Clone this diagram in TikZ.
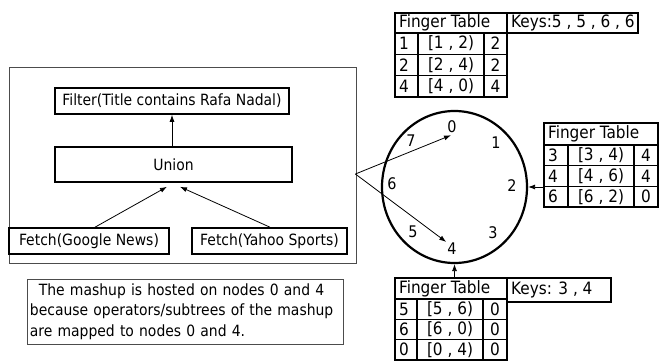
\documentclass[tikz,border=0pt]{standalone}
\usepackage{fontspec}
\setmainfont{DejaVu Sans Condensed}
\usetikzlibrary{arrows.meta,shapes.geometric,calc}
\tikzset{
  box/.style={draw, line width=1.6pt, inner sep=0pt},
  thinbox/.style={draw=black!70, line width=0.8pt, inner sep=0pt},
  arr/.style={-{Latex[length=7pt,width=5pt]}, line width=0.8pt},
  cell/.style={draw, line width=1.4pt, anchor=north west, inner sep=0pt, outer sep=0pt, font=\fontsize{17}{20}\selectfont},
  every label/.style={font=\fontsize{17}{20}\selectfont},
  outer/.style={line width=2.2pt},
  lbl/.style={inner sep=1pt, font=\fontsize{16}{20}\selectfont}
}
\newcommand\ftrow[9]{%
  \node[cell, minimum width=#5pt, minimum height=#4pt, label={[anchor=west,inner sep=4pt]west:#7}] (#1a) at (#2,#3) {};
  \node[cell, minimum width=66pt, minimum height=#4pt] (#1b) at (#1a.north east) {#8};
  \node[cell, minimum width=#6pt, minimum height=#4pt] (#1c) at (#1b.north east) {#9};
}
\begin{document}
\begin{tikzpicture}[x=1pt,y=-1pt,font=\fontsize{15.5}{20.3}\selectfont]
\useasboundingbox (0,0) rectangle (659,361);
% mashup box and operator tree
\node[thinbox, minimum width=347pt, minimum height=196pt] (mashup) at (182.5,165) {};
\node[box, minimum width=234pt, minimum height=26pt] (filter) at (172,101) {Filter(Title contains Rafa Nadal)};
\node[box, minimum width=237pt, minimum height=35pt] (union) at (173.5,164.5) {Union};
\node[box, minimum width=160pt, minimum height=26pt] (google) at (89,241) {Fetch(Google News)};
\node[box, minimum width=155pt, minimum height=26pt] (yahoo) at (269.5,241) {Fetch(Yahoo Sports)};
\draw[arr] (union.north -| filter.south) -- (filter.south);
\draw[arr] ($(google.north)+(6,0)$) -- ($(union.south)+(-6.5,4)$);
\draw[arr] ($(yahoo.north)+(0.5,0)$) -- ($(union.south)+(6.5,4)$);
% note
\node[thinbox, anchor=west, minimum height=65pt, text width=311pt, inner xsep=2.5pt, align=left] (note) at (27,311.5)
  {\hspace*{9pt}The mashup is hosted on nodes 0 and 4\\because operators/subtrees of the mashup\\are mapped to nodes 0 and 4.};
% ring
\node[draw, ellipse, line width=2.2pt, minimum width=145pt, minimum height=152pt, inner sep=0pt] (ring) at (454.5,187) {};
\node[lbl] (n0) at (452,127) {0};
\node[lbl] (n1) at (496,143) {1};
\node[lbl] (n2) at (512,186) {2};
\node[lbl] (n3) at (493,233) {3};
\node[lbl] (n4) at (452,249) {4};
\node[lbl] (n5) at (413,232) {5};
\node[lbl] (n6) at (392,184) {6};
\node[lbl] (n7) at (411,141) {7};
\coordinate (src) at ($(mashup.east)+(-1,9)$);
\draw[arr] (src) -- ($(n0.south)+(-1,1)$);
\draw[arr] (src) -- (n4.north west);
% top finger table
\node[cell, minimum width=112pt, minimum height=20pt, label={[anchor=west,inner sep=4pt]west:Finger Table}] (th) at (395,13) {};
\node[cell, minimum width=131pt, minimum height=20pt, outer, label={[anchor=west,inner sep=4pt]west:Keys:5 , 5 , 6 , 6}] (tkeys) at (th.north east) {};
\ftrow{ta}{395}{33}{21.3}{23}{23}{1}{[1 , 2)}{2}
\ftrow{tb}{395}{54.3}{21.3}{23}{23}{2}{[2 , 4)}{2}
\ftrow{tc}{395}{75.6}{21.3}{23}{23}{4}{[4 , 0)}{4}
\draw[outer] (th.north west) rectangle (tcc.south east);
% right finger table
\node[cell, minimum width=114pt, minimum height=22pt, label={[anchor=west,inner sep=4pt]west:Finger Table}] (rh) at (544,123) {};
\ftrow{ra}{544}{145}{20.7}{24}{24}{3}{[3 , 4)}{4}
\ftrow{rb}{544}{165.7}{20.7}{24}{24}{4}{[4 , 6)}{4}
\ftrow{rc}{544}{186.4}{20.7}{24}{24}{6}{[6 , 2)}{0}
\draw[outer] (rh.north west) rectangle (rcc.south east);
\draw[arr] (ring.east -| rh.west) -- (ring.east);
% bottom finger table
\node[cell, minimum width=112pt, minimum height=21pt, label={[anchor=west,inner sep=4pt]west:Finger Table}] (bh) at (395,278) {};
\node[cell, minimum width=104pt, minimum height=24pt, outer, label={[anchor=west,inner sep=4pt]west:Keys: 3 , 4}] (bkeys) at (bh.north east) {};
\ftrow{ba}{395}{299}{20.3}{22}{24}{5}{[5 , 6)}{0}
\ftrow{bb}{395}{319.3}{20.3}{22}{24}{6}{[6 , 0)}{0}
\ftrow{bc}{395}{339.6}{20.3}{22}{24}{0}{[0 , 4)}{0}
\draw[outer] (bh.north west) rectangle (bcc.south east);
\draw[arr] (ring.south |- bh.north) -- (ring.south);
\end{tikzpicture}
\end{document}
